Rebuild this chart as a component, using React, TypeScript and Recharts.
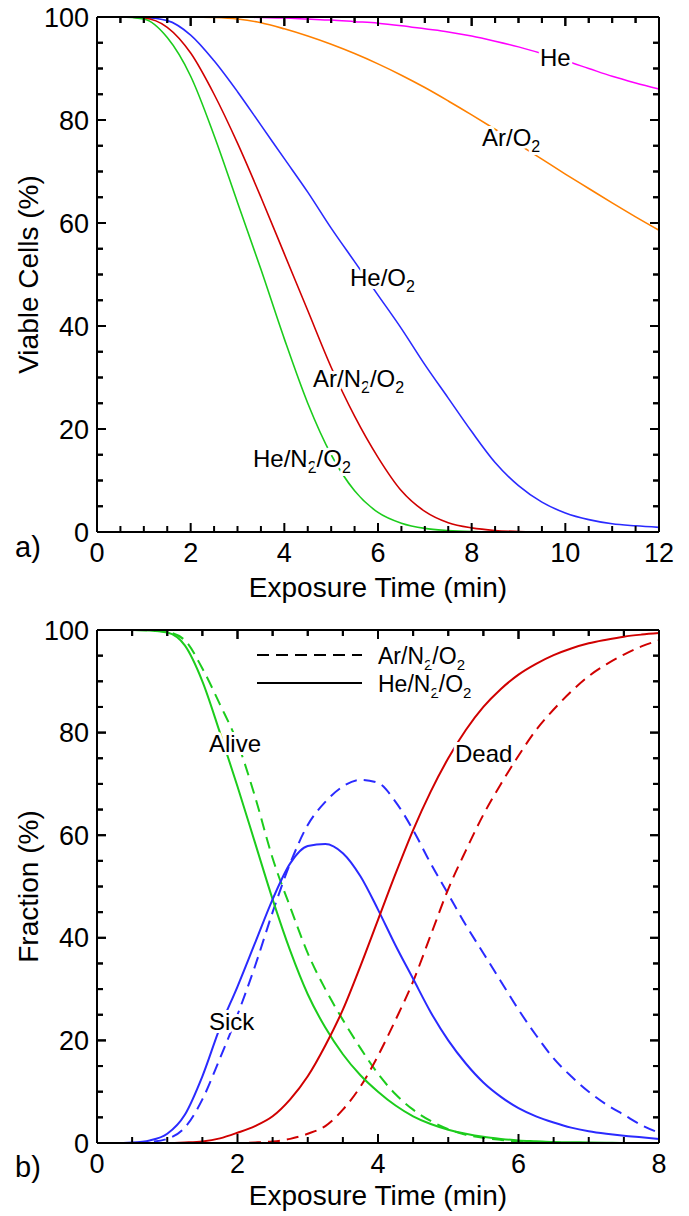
import React, { useEffect, useState } from 'react';
import { LineChart, Line, XAxis, YAxis, ReferenceLine } from 'recharts';

// Panel a: viable cells vs exposure time, sampled every 0.5 min
const timeA = [0, 0.5, 1, 1.5, 2, 2.5, 3, 3.5, 4, 4.5, 5, 5.5, 6, 6.5, 7, 7.5, 8, 8.5, 9, 9.5, 10, 10.5, 11, 11.5, 12];
const heN2O2A = [100, 100, 99.6, 96, 88.5, 77, 64, 51, 37.5, 25, 15, 8, 3.8, 1.7, 0.7, 0.3, 0.1, 0, 0, 0, 0, 0, 0, 0, 0];
const arN2O2A = [100, 100, 99.8, 98, 93, 85, 75.5, 65, 54, 43, 32, 22.5, 14.5, 8, 4, 1.8, 0.8, 0.3, 0.1, 0, 0, 0, 0, 0, 0];
const heO2A = [100, 100, 99.9, 99.3, 96.5, 91.5, 85.5, 79, 72.5, 66, 59, 52.5, 46, 39.5, 32.5, 26, 19.5, 13.5, 9, 5.8, 3.7, 2.4, 1.6, 1.2, 0.9];
const arO2A = [100, 100, 100, 100, 100, 99.9, 99.6, 98.9, 97.7, 96.3, 94.7, 92.9, 90.9, 88.7, 86.3, 83.7, 81, 78.2, 75.3, 72.4, 69.5, 66.7, 63.9, 61.2, 58.6];
const heA = [100, 100, 100, 100, 100, 100, 100, 99.9, 99.8, 99.6, 99.4, 99.1, 98.8, 98.3, 97.7, 97.1, 96.3, 95.3, 94.2, 92.9, 91.5, 90, 88.5, 87.2, 86];

const xTicksA = [0, 0.5, 1, 1.5, 2, 2.5, 3, 3.5, 4, 4.5, 5, 5.5, 6, 6.5, 7, 7.5, 8, 8.5, 9, 9.5, 10, 10.5, 11, 11.5, 12];
const xLabelsA = [0, 2, 4, 6, 8, 10, 12];

// Panel b: alive / sick / dead fractions, sampled every 0.25 min
const timeB = [0, 0.25, 0.5, 0.75, 1, 1.25, 1.5, 1.75, 2, 2.25, 2.5, 2.75, 3, 3.25, 3.5, 3.75, 4, 4.25, 4.5, 4.75, 5, 5.25, 5.5, 5.75, 6, 6.25, 6.5, 6.75, 7, 7.25, 7.5, 7.75, 8];
const aliveHe = [100, 100, 100, 99.9, 99.5, 97, 90, 80, 69.5, 58.5, 47.5, 37.5, 29, 22.5, 17.3, 13.2, 10, 7.3, 5.2, 3.7, 2.6, 1.8, 1.2, 0.8, 0.5, 0.35, 0.2, 0.15, 0.1, 0.05, 0, 0, 0];
const sickHe = [0, 0, 0.1, 0.5, 1.8, 5.5, 13, 22.5, 30.5, 39, 47.5, 54.5, 57.9, 58.3, 56.5, 52, 45.5, 38.5, 32, 25.5, 20, 15.5, 11.8, 9, 6.8, 5.2, 4, 3, 2.3, 1.8, 1.4, 1.1, 0.8];
const deadHe = [0, 0, 0, 0, 0, 0.1, 0.3, 0.9, 2, 3.3, 5.2, 8.5, 13, 19, 26, 34.5, 43.5, 52.5, 61, 68.5, 75, 80.5, 85, 88.5, 91.3, 93.4, 95.1, 96.4, 97.4, 98.1, 98.7, 99.1, 99.4];
const aliveAr = [100, 100, 100, 99.9, 99.6, 98, 92.5, 85.5, 78, 67.5, 55.5, 46, 37, 30, 24, 18.5, 13.5, 9.5, 6.5, 4.3, 2.7, 1.6, 1, 0.6, 0.3, 0.2, 0.1, 0, 0, 0, 0, 0, 0];
const sickAr = [0, 0, 0, 0.2, 0.8, 3, 8.5, 16.5, 25, 34.5, 45, 54.5, 62, 66.5, 69.5, 70.8, 70.2, 66.5, 61, 54.5, 48.5, 42.5, 37, 31.5, 26, 21, 16.5, 13, 10, 7.5, 5.5, 3.5, 2];
const deadAr = [0, 0, 0, 0, 0, 0, 0, 0, 0, 0.1, 0.3, 0.8, 1.8, 3.3, 6.5, 11, 17, 24, 31.5, 40.5, 49.5, 57, 64, 70, 75.5, 80.5, 84.5, 88, 91, 93.3, 95.2, 96.8, 98];

const xTicksB = [0, 0.5, 1, 1.5, 2, 2.5, 3, 3.5, 4, 4.5, 5, 5.5, 6, 6.5, 7, 7.5, 8];
const xLabelsB = [0, 2, 4, 6, 8];

const yTicks = [0, 5, 10, 15, 20, 25, 30, 35, 40, 45, 50, 55, 60, 65, 70, 75, 80, 85, 90, 95, 100];
const yLabels = [0, 20, 40, 60, 80, 100];

const rowsA = timeA.map((t, i) => ({
  t,
  heN2O2: heN2O2A[i],
  arN2O2: arN2O2A[i],
  heO2: heO2A[i],
  arO2: arO2A[i],
  he: heA[i],
}));

const rowsB = timeB.map((t, i) => ({
  t,
  aliveHe: aliveHe[i],
  sickHe: sickHe[i],
  deadHe: deadHe[i],
  aliveAr: aliveAr[i],
  sickAr: sickAr[i],
  deadAr: deadAr[i],
}));

const FONT = '"Liberation Sans", Arial, sans-serif';
const GREEN = '#1ccc1c';
const RED = '#d00000';
const BLUE = '#2a2aff';
const ORANGE = '#ff8000';
const MAGENTA = '#ff00ff';
const DASH = '12 7';

// ticks point into the plot; only the bottom/left axes carry numbers
function makeTick(side: 'bottom' | 'top' | 'left' | 'right', labels: number[]) {
  return (props: any) => {
    const { x, y, payload } = props;
    const v = payload.value;
    const major = labels.includes(v);
    const len = major ? 9 : 6;
    let line;
    if (side === 'bottom') line = <line x1={x} y1={y} x2={x} y2={y - len} stroke="#000" strokeWidth={2} />;
    else if (side === 'top') line = <line x1={x} y1={y} x2={x} y2={y + len} stroke="#000" strokeWidth={2} />;
    else if (side === 'left') line = <line x1={x} y1={y} x2={x + len} y2={y} stroke="#000" strokeWidth={2} />;
    else line = <line x1={x} y1={y} x2={x - len} y2={y} stroke="#000" strokeWidth={2} />;
    let label = null;
    if (major && side === 'bottom') {
      label = (
        <text x={x} y={y + 30} textAnchor="middle" fontSize={27} fontFamily={FONT} fill="#000">
          {v}
        </text>
      );
    } else if (major && side === 'left') {
      label = (
        <text x={x - 8} y={y + 9.5} textAnchor="end" fontSize={27} fontFamily={FONT} fill="#000">
          {v}
        </text>
      );
    }
    return (
      <g className={'tick-' + side}>
        {line}
        {label}
      </g>
    );
  };
}

const axisLine = { stroke: '#000', strokeWidth: 2 };

const tickBottomA = makeTick('bottom', xLabelsA);
const tickTopA = makeTick('top', xLabelsA);
const tickBottomB = makeTick('bottom', xLabelsB);
const tickTopB = makeTick('top', xLabelsB);
const tickLeft = makeTick('left', yLabels);
const tickRight = makeTick('right', yLabels);

// closed box: top/right border plus inward ticks on top, left and right,
// laid out on the chart's own scales (tick length given in data units per pixel)
function frameMarks(xMax: number, xTicks: number[], xLabels: number[], xPerPx: number, yPerPx: number) {
  const out: React.ReactElement[] = [];
  out.push(<ReferenceLine key="f-top" y={100} stroke="#000" strokeWidth={2} ifOverflow="visible" />);
  out.push(<ReferenceLine key="f-right" x={xMax} stroke="#000" strokeWidth={2} ifOverflow="visible" />);
  xTicks.forEach((t) => {
    const len = (xLabels.includes(t) ? 9 : 6) * yPerPx;
    out.push(
      <ReferenceLine
        key={'t-' + t}
        segment={[
          { x: t, y: 100 },
          { x: t, y: 100 - len },
        ]}
        stroke="#000"
        strokeWidth={2}
        ifOverflow="visible"
      />
    );
  });
  yTicks.forEach((v) => {
    const len = (yLabels.includes(v) ? 9 : 6) * xPerPx;
    out.push(
      <ReferenceLine
        key={'l-' + v}
        segment={[
          { x: 0, y: v },
          { x: len, y: v },
        ]}
        stroke="#000"
        strokeWidth={2}
        ifOverflow="visible"
      />
    );
    out.push(
      <ReferenceLine
        key={'r-' + v}
        segment={[
          { x: xMax, y: v },
          { x: xMax - len, y: v },
        ]}
        stroke="#000"
        strokeWidth={2}
        ifOverflow="visible"
      />
    );
  });
  return out;
}

// gas-mixture label with subscripted digits
function Sub({ parts, x, y, size = 24 }: { parts: string[]; x: number; y: number; size?: number }) {
  const small = Math.round(size * 0.65);
  return (
    <text
      x={x}
      y={y}
      fontSize={size}
      fontFamily={FONT}
      fill="#000"
      stroke="#fff"
      strokeWidth={6}
      paintOrder="stroke"
      strokeLinejoin="round"
    >
      {parts.map((p, i) =>
        p === '2' ? (
          <tspan key={i} fontSize={small} dy={6}>
            2
          </tspan>
        ) : (
          <tspan key={i} dy={i > 0 && parts[i - 1] === '2' ? -6 : 0}>
            {p}
          </tspan>
        )
      )}
    </text>
  );
}

function Plain({ text, x, y, size = 24 }: { text: string; x: number; y: number; size?: number }) {
  return (
    <text
      x={x}
      y={y}
      fontSize={size}
      fontFamily={FONT}
      fill="#000"
      stroke="#fff"
      strokeWidth={6}
      paintOrder="stroke"
      strokeLinejoin="round"
    >
      {text}
    </text>
  );
}

export default function App() {
  const W = 689;
  const H = 608;
  // one extra pass after mount so the mirrored top/right axes get laid out
  const [pass, setPass] = useState(0);
  useEffect(() => {
    const id = setTimeout(() => setPass(1), 100);
    return () => clearTimeout(id);
  }, []);

  return (
    <div style={{ position: 'absolute', left: 0, top: 0, width: W }} data-pass={pass}>
      {/* panel a */}
      <div style={{ position: 'relative', width: W, height: H }}>
        <LineChart width={W} height={H} data={rowsA} margin={{ top: 16, right: 29, bottom: 0, left: 0 }}>
          <XAxis dataKey="t" type="number" domain={[0, 12]} ticks={xTicksA} interval={0} height={76} tickSize={0} tickMargin={0} axisLine={axisLine} tickLine={false} tick={tickBottomA} />
          <XAxis xAxisId="top" orientation="top" dataKey="t" type="number" domain={[0, 12]} ticks={xTicksA} interval={0} height={1} tickSize={0} tickMargin={0} axisLine={axisLine} tickLine={false} tick={tickTopA} />
          <YAxis type="number" domain={[0, 100]} ticks={yTicks} interval={0} width={97} tickSize={0} tickMargin={0} axisLine={axisLine} tickLine={false} tick={tickLeft} />
          <YAxis yAxisId="right" orientation="right" type="number" domain={[0, 100]} ticks={yTicks} interval={0} width={1} tickSize={0} tickMargin={0} axisLine={axisLine} tickLine={false} tick={tickRight} />
          {frameMarks(12, xTicksA, xLabelsA, 12 / 562, 100 / 515)}
          <Line xAxisId="top" yAxisId="right" type="monotone" dataKey="he" stroke={MAGENTA} strokeWidth={1.5} dot={false} isAnimationActive={false} />
          <Line type="monotone" dataKey="arO2" stroke={ORANGE} strokeWidth={1.6} dot={false} isAnimationActive={false} />
          <Line type="monotone" dataKey="heO2" stroke={BLUE} strokeWidth={1.6} dot={false} isAnimationActive={false} />
          <Line type="monotone" dataKey="arN2O2" stroke={RED} strokeWidth={1.6} dot={false} isAnimationActive={false} />
          <Line type="monotone" dataKey="heN2O2" stroke={GREEN} strokeWidth={1.6} dot={false} isAnimationActive={false} />
        </LineChart>
        <svg width={W} height={H} style={{ position: 'absolute', left: 0, top: 0, pointerEvents: 'none' }}>
          <Plain text="He" x={540} y={66} />
          <Sub parts={['Ar/O', '2']} x={482} y={146} />
          <Sub parts={['He/O', '2']} x={350} y={286} />
          <Sub parts={['Ar/N', '2', '/O', '2']} x={313} y={387} />
          <Sub parts={['He/N', '2', '/O', '2']} x={253} y={467} />
          <text x={378} y={597} textAnchor="middle" fontSize={28} fontFamily={FONT} fill="#000">
            Exposure Time (min)
          </text>
          <text x={38} y={274.5} textAnchor="middle" fontSize={28} fontFamily={FONT} fill="#000" transform="rotate(-90 38 274.5)">
            Viable Cells (%)
          </text>
          <text x={15} y={557} fontSize={29} fontFamily={FONT} fill="#000">
            a)
          </text>
        </svg>
      </div>

      {/* panel b */}
      <div style={{ position: 'relative', width: W, height: H }}>
        <LineChart width={W} height={H} data={rowsB} margin={{ top: 21, right: 29, bottom: 0, left: 0 }}>
          <XAxis dataKey="t" type="number" domain={[0, 8]} ticks={xTicksB} interval={0} height={73} tickSize={0} tickMargin={0} axisLine={axisLine} tickLine={false} tick={tickBottomB} />
          <XAxis xAxisId="top" orientation="top" dataKey="t" type="number" domain={[0, 8]} ticks={xTicksB} interval={0} height={1} tickSize={0} tickMargin={0} axisLine={axisLine} tickLine={false} tick={tickTopB} />
          <YAxis type="number" domain={[0, 100]} ticks={yTicks} interval={0} width={97} tickSize={0} tickMargin={0} axisLine={axisLine} tickLine={false} tick={tickLeft} />
          <YAxis yAxisId="right" orientation="right" type="number" domain={[0, 100]} ticks={yTicks} interval={0} width={1} tickSize={0} tickMargin={0} axisLine={axisLine} tickLine={false} tick={tickRight} />
          {frameMarks(8, xTicksB, xLabelsB, 8 / 562, 100 / 513)}
          <Line type="monotone" dataKey="aliveAr" stroke={GREEN} strokeWidth={2} strokeDasharray={DASH} dot={false} isAnimationActive={false} />
          <Line type="monotone" dataKey="sickAr" stroke={BLUE} strokeWidth={2} strokeDasharray={DASH} dot={false} isAnimationActive={false} />
          <Line type="monotone" dataKey="deadAr" stroke={RED} strokeWidth={2} strokeDasharray={DASH} dot={false} isAnimationActive={false} />
          <Line type="monotone" dataKey="aliveHe" stroke={GREEN} strokeWidth={2} dot={false} isAnimationActive={false} />
          <Line type="monotone" dataKey="sickHe" stroke={BLUE} strokeWidth={2} dot={false} isAnimationActive={false} />
          <Line xAxisId="top" yAxisId="right" type="monotone" dataKey="deadHe" stroke={RED} strokeWidth={2} dot={false} isAnimationActive={false} />
        </LineChart>
        <svg width={W} height={H} style={{ position: 'absolute', left: 0, top: 0, pointerEvents: 'none' }}>
          {/* legend: line style distinguishes the gas mixture */}
          <line x1={257} y1={47} x2={362} y2={47} stroke="#000" strokeWidth={2.2} strokeDasharray={DASH} />
          <line x1={257} y1={75} x2={362} y2={75} stroke="#000" strokeWidth={2.2} />
          <Sub parts={['Ar/N', '2', '/O', '2']} x={378} y={56} size={23} />
          <Sub parts={['He/N', '2', '/O', '2']} x={378} y={84} size={23} />
          <Plain text="Alive" x={209} y={144} />
          <Plain text="Dead" x={455} y={154} />
          <Plain text="Sick" x={209} y={422} />
          <text x={378} y={597} textAnchor="middle" fontSize={28} fontFamily={FONT} fill="#000">
            Exposure Time (min)
          </text>
          <text x={38} y={278.5} textAnchor="middle" fontSize={28} fontFamily={FONT} fill="#000" transform="rotate(-90 38 278.5)">
            Fraction (%)
          </text>
          <text x={15} y={569} fontSize={29} fontFamily={FONT} fill="#000">
            b)
          </text>
        </svg>
      </div>
    </div>
  );
}
